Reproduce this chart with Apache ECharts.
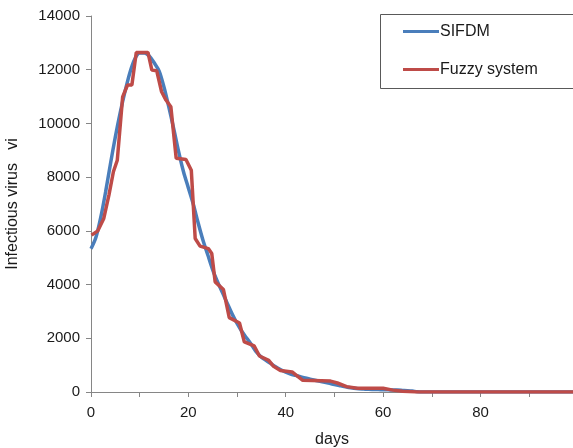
<!DOCTYPE html>
<html>
<head>
<meta charset="utf-8">
<script src="https://cdn.jsdelivr.net/npm/echarts@6/dist/echarts.min.js"></script>
<style>
  html, body { margin: 0; padding: 0; background: #fff; }
  #chart { width: 573px; height: 448px; }
</style>
</head>
<body>
<div id="chart"></div>
<script>
// SIFDM model: infectious virus per day (days 0..99)
const sifdmDays = Array.from({ length: 100 }, (_, i) => i);
const sifdmValues = [
  5330, 5750, 6500, 7450, 8500, 9500, 10400, 11200, 11900, 12400,
  12620, 12620, 12500, 12250, 11950, 11350, 10600, 9800, 8950, 8200,
  7600, 7000, 6300, 5650, 5100, 4550, 4100, 3700, 3300, 2900,
  2550, 2250, 2000, 1750, 1480, 1300, 1170, 1050, 930, 830,
  740, 670, 620, 570, 520, 480, 440, 400, 360, 320,
  280, 240, 200, 170, 140, 120, 110, 100, 95, 90,
  85, 80, 75, 70, 60, 50, 35, 10, 0, 0,
  0, 0, 0, 0, 0, 0, 0, 0, 0, 0,
  0, 0, 0, 0, 0, 0, 0, 0, 0, 0,
  0, 0, 0, 0, 0, 0, 0, 0, 0, 0
];

// Fuzzy system output (time, value)
const fuzzyDays = [
  0.1, 1.4, 2.6, 3.7, 4.6, 5.4, 6.5, 7.5, 8.4, 9.3,
  11.7, 12.5, 13.5, 14.5, 15.4, 16.4, 17.5, 19.5, 20.6, 21.4,
  22.4, 24.1, 24.8, 25.5, 27.2, 28.4, 30.5, 31.5, 33.5, 34.6,
  36.5, 37.5, 38.9, 41.3, 43.5, 49.2, 50.6, 52.5, 54.7, 60,
  62, 64, 67, 99
];
const fuzzyValues = [
  5840, 6000, 6450, 7350, 8200, 8630, 10990, 11430, 11430, 12645,
  12645, 11985, 11960, 11180, 10870, 10620, 8700, 8660, 8260, 5715,
  5430, 5340, 5160, 4100, 3815, 2770, 2570, 1863, 1715, 1340,
  1180, 957, 800, 745, 436, 405, 335, 200, 140, 140,
  70, 30, 0, 0
];

const xTicks = [0, 10, 20, 30, 40, 50, 60, 70, 80, 90];
const xLabels = [0, 20, 40, 60, 80];
const yTicks = [0, 2000, 4000, 6000, 8000, 10000, 12000, 14000];

const FONT = '"Liberation Sans", Arial, sans-serif';
const AXIS_COLOR = '#868686';
const TEXT_COLOR = '#1a1a1a';

const chart = echarts.init(document.getElementById('chart'), null, { renderer: 'canvas' });

chart.setOption({
  animation: false,
  backgroundColor: '#fff',
  textStyle: { fontFamily: FONT },
  grid: { left: 91, right: 0, top: 16, bottom: 56, containLabel: false, outerBoundsMode: 'none' },
  xAxis: {
    type: 'value',
    min: 0,
    max: 99,
    name: 'days',
    nameLocation: 'middle',
    nameGap: 40,
    nameTextStyle: { fontFamily: FONT, fontSize: 16, color: TEXT_COLOR },
    axisLine: { show: true, lineStyle: { color: AXIS_COLOR, width: 1 } },
    axisTick: { show: true, length: 5, lineStyle: { color: AXIS_COLOR }, customValues: xTicks },
    axisLabel: {
      fontFamily: FONT, fontSize: 15, color: TEXT_COLOR, margin: 13,
      customValues: xLabels, formatter: v => String(v)
    },
    splitLine: { show: false }
  },
  yAxis: {
    type: 'value',
    min: 0,
    max: 14000,
    interval: 2000,
    name: 'Infectious virus   vi',
    nameLocation: 'middle',
    nameGap: 70,
    nameRotate: 90,
    nameTextStyle: { fontFamily: FONT, fontSize: 16, color: TEXT_COLOR },
    axisLine: { show: true, lineStyle: { color: AXIS_COLOR, width: 1 } },
    axisTick: { show: true, length: 5, lineStyle: { color: AXIS_COLOR }, customValues: yTicks },
    axisLabel: {
      fontFamily: FONT, fontSize: 15, color: TEXT_COLOR, margin: 11,
      customValues: yTicks, formatter: v => String(v)
    },
    splitLine: { show: false }
  },
  legend: {
    orient: 'vertical',
    left: 403,
    top: 22,
    padding: 0,
    itemWidth: 36,
    itemHeight: 3,
    itemGap: 19,
    icon: 'rect',
    textStyle: { fontFamily: FONT, fontSize: 16, color: TEXT_COLOR, lineHeight: 19, padding: [0, 0, 0, -4] },
    data: ['SIFDM', 'Fuzzy system']
  },
  graphic: [{
    type: 'rect',
    left: 378,
    top: 12,
    shape: { width: 194, height: 74 },
    style: { fill: 'none', stroke: '#595959', lineWidth: 1 },
    z: 100
  }],
  series: [
    {
      name: 'SIFDM',
      type: 'line',
      data: sifdmDays.map((d, i) => [d, sifdmValues[i]]),
      showSymbol: false,
      smooth: 0.3,
      lineStyle: { color: '#4A7EBB', width: 3.5 },
      itemStyle: { color: '#4A7EBB' },
      z: 2
    },
    {
      name: 'Fuzzy system',
      type: 'line',
      data: fuzzyDays.map((d, i) => [d, fuzzyValues[i]]),
      showSymbol: false,
      lineStyle: { color: '#BE4B48', width: 3.5 },
      itemStyle: { color: '#BE4B48' },
      z: 3
    }
  ]
});
</script>
</body>
</html>
